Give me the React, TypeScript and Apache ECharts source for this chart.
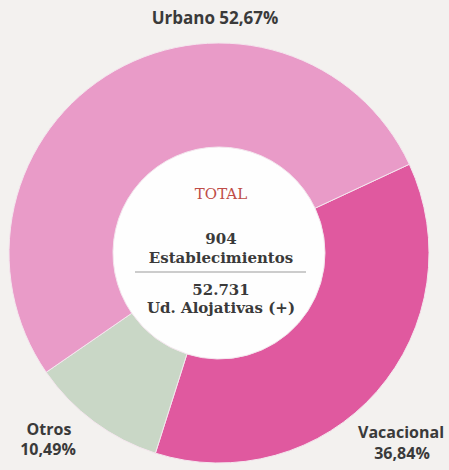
import React, { useEffect, useRef } from "react";
import * as echarts from "echarts";

const categories = ["Vacacional", "Otros", "Urbano"];
const shares = [36.84, 10.49, 52.67];
const colors = ["#e0599f", "#c9d7c6", "#e99bc8"];
const totalTitle = "TOTAL";
const totalEstablishments = "904";
const establishmentsLabel = "Establecimientos";
const totalUnits = "52.731";
const unitsLabel = "Ud. Alojativas (+)";

const fmt = (v: number) => v.toFixed(2).replace(".", ",") + "%";

export default function App() {
  const ref = useRef<HTMLDivElement>(null);
  useEffect(() => {
    document.body.style.margin = "0";
    const chart = echarts.init(ref.current!, null, { renderer: "svg" });
    const cx = 219;
    const cy = 253;
    const labelFont = "'Open Sans', sans-serif";
    const serif = "'DejaVu Serif', serif";
    const txt = (x: number, y: number, text: string, font: string, fill = "#3a3a3a") => ({
      type: "text",
      z: 100,
      x,
      y,
      style: { text, font, fill, align: "center", verticalAlign: "middle" },
    });
    chart.setOption({
      animation: false,
      backgroundColor: "#f3f1ef",
      series: [
        {
          type: "pie",
          center: [cx, cy],
          radius: [0, 106],
          silent: true,
          z: 1,
          label: { show: false },
          labelLine: { show: false },
          data: [{ value: 1, itemStyle: { color: "#fefefe" } }],
        },
        {
          type: "pie",
          center: [cx, cy],
          radius: [106, 210],
          startAngle: 25,
          clockwise: true,
          silent: true,
          z: 1,
          label: { show: false },
          labelLine: { show: false },
          itemStyle: { borderColor: "#f4e6ee", borderWidth: 1 },
          data: categories.map((c, i) => ({
            name: c,
            value: shares[i],
            itemStyle: { color: colors[i] },
          })),
        },
      ],
      graphic: {
        elements: [
          txt(215, 17, `${categories[2]} ${fmt(shares[2])}`, `bold 17px ${labelFont}`),
          txt(49, 429, categories[1], `bold 16px ${labelFont}`),
          txt(48, 449, fmt(shares[1]), `bold 16px ${labelFont}`),
          txt(401, 432, categories[0], `bold 16px ${labelFont}`),
          txt(402, 453, fmt(shares[0]), `bold 16px ${labelFont}`),
          txt(221, 194, totalTitle, `15px ${serif}`, "#bf4d47"),
          txt(221, 239, totalEstablishments, `bold 15px ${serif}`),
          txt(221, 258, establishmentsLabel, `bold 15px ${serif}`),
          {
            type: "line",
            z: 100,
            shape: { x1: 135, y1: 272, x2: 306, y2: 272 },
            style: { stroke: "#9a9a9a", lineWidth: 1 },
          },
          txt(221, 290, totalUnits, `bold 15px ${serif}`),
          txt(221, 308, unitsLabel, `bold 15px ${serif}`),
        ],
      },
    });
    return () => chart.dispose();
  }, []);
  return <div ref={ref} style={{ width: 449, height: 470 }} />;
}
